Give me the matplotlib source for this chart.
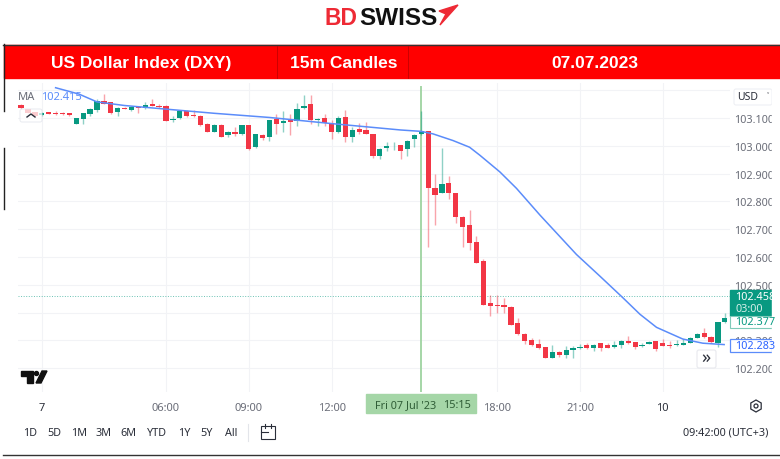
import matplotlib
matplotlib.use("Agg")
import matplotlib.pyplot as plt
from matplotlib.patches import Rectangle, Polygon, FancyBboxPatch, RegularPolygon, Circle

# candle data (15m candles)
opens = [103.146, 103.132, 103.120, 103.110, 103.120, 103.119, 103.118, 103.118, 103.079, 103.098,
         103.115, 103.129, 103.161, 103.156, 103.121, 103.137, 103.130, 103.140, 103.136, 103.151,
         103.145, 103.145, 103.092, 103.099, 103.126, 103.112, 103.108, 103.079, 103.049, 103.076,
         103.038, 103.050, 103.042, 103.075, 102.994, 103.039, 103.030, 103.096, 103.083, 103.095,
         103.089, 103.136, 103.149, 103.094, 103.099, 103.082, 103.050, 103.105, 103.033, 103.062,
         103.057, 103.042, 102.963, 102.992, 102.998, 103.002, 102.987, 103.024, 103.042, 103.052,
         102.847, 102.831, 102.867, 102.831, 102.745, 102.716, 102.654, 102.585, 102.434, 102.428,
         102.426, 102.421, 102.361, 102.324, 102.303, 102.288, 102.275, 102.238, 102.260, 102.249,
         102.267, 102.273, 102.282, 102.271, 102.290, 102.284, 102.278, 102.284, 102.299, 102.294,
         102.280, 102.287, 102.297, 102.292, 102.282, 102.284, 102.285, 102.292, 102.310, 102.325,
         102.312, 102.292, 102.365]
closes = [103.137, 103.117, 103.106, 103.119, 103.115, 103.115, 103.114, 103.110, 103.099, 103.118,
          103.132, 103.160, 103.152, 103.119, 103.135, 103.133, 103.139, 103.135, 103.146, 103.144,
          103.140, 103.090, 103.096, 103.124, 103.107, 103.107, 103.075, 103.051, 103.076, 103.033,
          103.050, 103.041, 103.074, 102.989, 103.042, 103.029, 103.092, 103.079, 103.090, 103.085,
          103.132, 103.145, 103.093, 103.098, 103.083, 103.048, 103.101, 103.031, 103.058, 103.051,
          103.043, 102.963, 102.988, 102.998, 103.001, 102.983, 103.019, 103.039, 103.054, 102.847,
          102.823, 102.864, 102.829, 102.743, 102.708, 102.650, 102.580, 102.429, 102.422, 102.422,
          102.419, 102.357, 102.324, 102.297, 102.282, 102.271, 102.236, 102.260, 102.247, 102.265,
          102.273, 102.278, 102.271, 102.285, 102.274, 102.273, 102.282, 102.297, 102.290, 102.275,
          102.285, 102.294, 102.269, 102.281, 102.280, 102.286, 102.290, 102.310, 102.322, 102.312,
          102.293, 102.366, 102.382]
highs = [103.149, 103.132, 103.123, 103.121, 103.123, 103.124, 103.120, 103.119, 103.100, 103.119,
         103.135, 103.170, 103.186, 103.157, 103.138, 103.139, 103.142, 103.143, 103.156, 103.167,
         103.152, 103.146, 103.108, 103.126, 103.129, 103.130, 103.110, 103.081, 103.077, 103.079,
         103.054, 103.068, 103.076, 103.076, 103.043, 103.042, 103.094, 103.114, 103.126, 103.114,
         103.154, 103.184, 103.182, 103.099, 103.114, 103.092, 103.106, 103.129, 103.067, 103.081,
         103.087, 103.043, 102.992, 103.013, 103.013, 103.004, 103.021, 103.042, 103.126, 103.054,
         102.900, 102.993, 102.891, 102.832, 102.746, 102.770, 102.674, 102.592, 102.463, 102.463,
         102.451, 102.422, 102.380, 102.325, 102.309, 102.304, 102.276, 102.282, 102.261, 102.280,
         102.279, 102.288, 102.291, 102.287, 102.291, 102.290, 102.297, 102.303, 102.315, 102.296,
         102.292, 102.297, 102.298, 102.305, 102.299, 102.303, 102.304, 102.313, 102.325, 102.343,
         102.317, 102.367, 102.397]
lows = [103.132, 103.117, 103.104, 103.107, 103.113, 103.112, 103.112, 103.107, 103.077, 103.079,
        103.106, 103.120, 103.149, 103.113, 103.106, 103.131, 103.127, 103.118, 103.132, 103.142,
        103.137, 103.088, 103.085, 103.095, 103.105, 103.104, 103.073, 103.050, 103.048, 103.031,
        103.032, 103.036, 103.039, 102.986, 102.991, 103.020, 103.016, 103.043, 103.051, 103.039,
        103.071, 103.132, 103.079, 103.070, 103.071, 103.025, 103.046, 103.013, 103.013, 103.043,
        103.041, 102.956, 102.954, 102.980, 102.985, 102.954, 102.963, 102.994, 103.039, 102.636,
        102.716, 102.830, 102.807, 102.722, 102.636, 102.626, 102.578, 102.426, 102.387, 102.400,
        102.398, 102.355, 102.321, 102.286, 102.280, 102.268, 102.235, 102.236, 102.241, 102.237,
        102.236, 102.268, 102.268, 102.262, 102.263, 102.271, 102.271, 102.271, 102.287, 102.269,
        102.275, 102.286, 102.262, 102.279, 102.272, 102.281, 102.284, 102.290, 102.307, 102.310,
        102.291, 102.278, 102.364]

ma_idx = [5, 8.4, 11, 15, 21, 28, 36, 45, 55, 58, 59.7, 62.6, 65.0, 66.5, 69.4, 71.8, 75.2, 80.5,
          83.9, 87.2, 89.7, 92.1, 95.9, 98.8, 101.9]
ma_vals = [103.209, 103.186, 103.158, 103.145, 103.132, 103.117, 103.102, 103.080, 103.057, 103.052,
           103.043, 103.019, 102.995, 102.966, 102.906, 102.847, 102.751, 102.609,
           102.531, 102.454, 102.394, 102.347, 102.305, 102.290, 102.285]

price_ticks = [103.2, 103.1, 103.0, 102.9, 102.8, 102.7, 102.6, 102.5, 102.4, 102.3, 102.2]
price_labels = ["", "103.100", "103.000", "102.900", "102.800", "102.700", "102.600", "102.500", "", "102.300", "102.200"]
time_ticks = [3, 21, 33, 45, 69, 81, 93]
time_labels = ["7", "06:00", "09:00", "12:00", "18:00", "21:00", "10"]
range_names = ["1D", "5D", "1M", "3M", "6M", "YTD", "1Y", "5Y", "All"]
range_x = [30, 54, 79, 103, 128, 157, 184, 207, 231]

GREEN = "#089981"
RED = "#f23645"
BLUE = "#5b8cfa"
GREY = "#6a6d78"
DARK = "#2a2e39"

fig = plt.figure(figsize=(7.8, 4.6), dpi=100)
plt.rcParams["font.family"] = "Noto Sans"

# chart area, 18..730 px wide and 84..393 px down
ax = fig.add_axes([18 / 780, 1 - 393 / 460, 712 / 780, 309 / 460])
ax.set_xlim(-0.45, 102.75)
ax.set_ylim(102.1144, 103.226)
for s in ax.spines.values():
    s.set_visible(False)
ax.yaxis.tick_right()
ax.set_yticks(price_ticks)
ax.set_yticklabels(price_labels, fontsize=7.8, color=GREY)
ax.set_xticks(time_ticks)
ax.set_xticklabels(time_labels, fontsize=8, color=GREY)
ax.tick_params(axis="both", length=0)
ax.tick_params(axis="y", pad=3)
ax.tick_params(axis="x", pad=7)
for lab in (ax.get_xticklabels()[0], ax.get_xticklabels()[-1]):
    lab.set_color(DARK)
ax.get_xticklabels()[-1].set_fontweight("bold")
ax.grid(True, color="#f2f3f6", lw=0.8)
ax.set_axisbelow(True)

# crosshair + last price line
ax.axvline(58, ymax=0.987, color="#a5d6a7", lw=1.4, zorder=1)
ax.axhline(102.458, color=GREEN, lw=0.7, ls=":", alpha=0.6, zorder=1)

# candles
for i in range(len(opens)):
    col = GREEN if closes[i] >= opens[i] else RED
    ax.vlines(i, lows[i], highs[i], color=col, lw=1, alpha=0.45, zorder=2)
    bottom = min(opens[i], closes[i])
    ax.bar(i, abs(closes[i] - opens[i]), bottom=bottom, width=0.76, color=col, zorder=3)

ax.plot(ma_idx, ma_vals, color=BLUE, lw=1.1, zorder=4)

# everything else sits on an overlay in pixel coordinates
ov = fig.add_axes([0, 0, 1, 1], facecolor="none")
ov.set_xlim(0, 780)
ov.set_ylim(460, 0)
ov.axis("off")

# logo
ov.text(325, 18.5, "BD", color="#ee2a35", fontsize=16.5, fontweight="bold", family="Liberation Sans", va="center", ha="left")
ov.text(359, 18.5, "SWISS", color="#111111", fontsize=17.5, fontweight="bold", family="Liberation Sans", va="center", ha="left")
ov.add_patch(Polygon([(458, 6), (439, 12), (446, 15), (440, 26)], color="#ee2a35"))

# red banner
ov.add_patch(Rectangle((4, 46), 776, 33, color="#ff0000"))
ov.plot([3, 780], [45.5, 45.5], color="#333333", lw=1)
ov.plot([277, 277], [47, 79], color="#c40000", lw=0.6)
ov.plot([408, 408], [47, 79], color="#c40000", lw=0.6)
ov.plot([3.5, 3.5], [45, 112], color="#222222", lw=1)
ov.plot([3.5, 3.5], [149, 210], color="#222222", lw=1)
ov.plot([3, 780], [455.5, 455.5], color="#333333", lw=1)
for name, cx in [("US Dollar Index (DXY)", 141), ("15m Candles", 343.5), ("07.07.2023", 595)]:
    ov.text(cx, 63.5, name, color="white", fontsize=12.5, fontweight="bold", family="Liberation Sans", ha="center", va="center")

# legend
ov.text(18, 97, "MA", fontsize=8, color=GREY, va="center")
ov.text(41, 97, "102.415", fontsize=8, color=BLUE, va="center")
ov.add_patch(FancyBboxPatch((20, 110), 22, 13, boxstyle="round,pad=0,rounding_size=2", fc="white", ec="#e0e3eb", lw=0.7, alpha=0.75))
ov.plot([27, 31, 35], [118, 115, 118], color=DARK, lw=1)

# price scale boxes, and the strip cutting the labels off on the right
ov.add_patch(Rectangle((772, 84), 8, 310, color="white", zorder=3))
ov.add_patch(FancyBboxPatch((734, 90), 38, 16, boxstyle="round,pad=0,rounding_size=2", fc="white", ec="#eceef3", lw=0.7))
ov.text(737, 98, "USD", fontsize=7.5, color=DARK, va="center")
ov.text(768, 97, "˅", fontsize=6, color=DARK, va="center", ha="center")

ov.add_patch(Rectangle((730, 291), 42, 26, color=GREEN))
ov.text(735, 298, "102.458", fontsize=7.8, color="white", fontweight="bold", va="center")
ov.text(735, 310, "03:00", fontsize=7.8, color="#d5efe9", va="center")
ov.add_patch(Rectangle((730, 317), 42, 12, fc="white", ec="#7fcab9", lw=0.8))
ov.text(735, 323, "102.377", fontsize=7.8, color=GREEN, va="center")
ov.add_patch(Rectangle((730, 340), 42, 13, fc="white", ec=BLUE, lw=0.9))
ov.text(735, 346.5, "102.283", fontsize=7.8, color="#2962ff", va="center")

# scroll button
ov.add_patch(FancyBboxPatch((697, 351), 19, 18, boxstyle="round,pad=0,rounding_size=2", fc="white", ec="#e8e9ee", lw=0.8))
ov.text(706, 358.5, "»", fontsize=13, color=DARK, fontweight="bold", ha="center", va="center")

# TradingView mark
ov.add_patch(Polygon([(21, 372), (33, 372), (33, 384), (27, 384), (27, 377), (21, 377)], color="#111111"))
ov.add_patch(Circle((36.5, 374.5), 2, color="#111111"))
ov.add_patch(Polygon([(42, 372), (47, 372), (41, 384), (36, 384)], color="#111111"))

# crosshair time label
ov.add_patch(Rectangle((366, 395), 110, 19, color="#a5d6a7"))
ov.text(375, 406, "Fri 07 Jul '23", fontsize=7.8, color="#2f5d36", va="center")
ov.text(443, 406, "15:15", fontsize=7.8, color="#2f5d36", va="center")

# settings icon
ov.add_patch(RegularPolygon((756, 407), 6, radius=6, fc="none", ec=DARK, lw=0.9))
ov.add_patch(Circle((756, 407), 2, fc="none", ec=DARK, lw=0.9))

# range buttons
for name, bx in zip(range_names, range_x):
    ov.text(bx, 433.5, name, fontsize=7.8, color=DARK, ha="center", va="center")
ov.plot([248, 248], [425, 442], color="#e3e5ea", lw=0.8)
ov.add_patch(Rectangle((261, 427), 14, 13, fc="none", ec=DARK, lw=0.8))
ov.plot([261, 268], [433, 433], color=DARK, lw=0.8)
ov.plot([265, 265], [425, 429], color=DARK, lw=0.8)
ov.plot([271, 271], [425, 429], color=DARK, lw=0.8)

ov.text(768, 433.5, "09:42:00 (UTC+3)", fontsize=7.8, color=DARK, ha="right", va="center")

fig.savefig("out.png", dpi=100)
